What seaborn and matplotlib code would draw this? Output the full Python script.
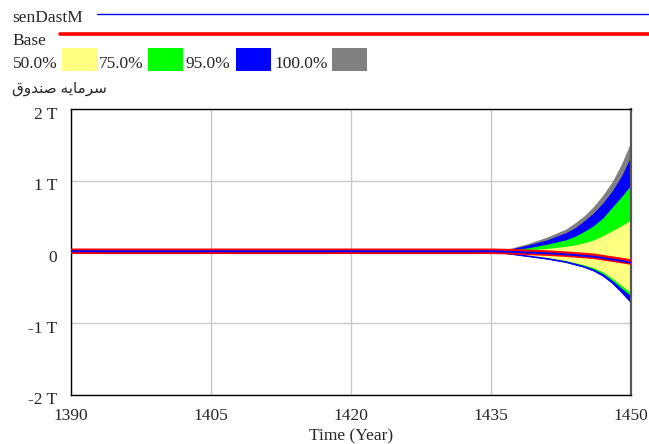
import matplotlib
matplotlib.use("Agg")
import matplotlib.pyplot as plt
from matplotlib.lines import Line2D
from matplotlib.patches import Rectangle
from matplotlib.transforms import ScaledTranslation
import numpy as np
import pandas as pd
import seaborn as sns

# Simulation output, fund capital in trillions (T)
years = [1390, 1430, 1435, 1437, 1439, 1441, 1443, 1444, 1445, 1446, 1447, 1448, 1449, 1450]

base =      [0.01, 0.01, 0.01, 0.005, -0.005, -0.015, -0.03, -0.04, -0.05, -0.06, -0.08, -0.10, -0.12, -0.14]
sen_dastm = [0.01, 0.01, 0.01, 0.003, -0.008, -0.018, -0.033, -0.043, -0.054, -0.065, -0.085, -0.105, -0.127, -0.15]

# Confidence bounds (upper / lower) for each sensitivity band
p100_hi = [0.01, 0.01, 0.02, 0.05, 0.12, 0.21, 0.32, 0.41, 0.51, 0.64, 0.80, 0.99, 1.24, 1.55]
p95_hi  = [0.01, 0.01, 0.015, 0.04, 0.10, 0.17, 0.27, 0.34, 0.44, 0.55, 0.69, 0.86, 1.07, 1.35]
p75_hi  = [0.01, 0.01, 0.01, 0.025, 0.06, 0.11, 0.17, 0.22, 0.29, 0.37, 0.48, 0.63, 0.78, 0.94]
p50_hi  = [0.01, 0.01, 0.01, 0.015, 0.03, 0.05, 0.08, 0.10, 0.13, 0.17, 0.23, 0.30, 0.37, 0.45]
p50_lo  = [0.01, 0.01, 0.005, -0.02, -0.05, -0.08, -0.12, -0.15, -0.18, -0.22, -0.28, -0.37, -0.47, -0.57]
p75_lo  = [0.01, 0.01, 0.004, -0.022, -0.055, -0.087, -0.13, -0.16, -0.195, -0.24, -0.305, -0.40, -0.51, -0.62]
p95_lo  = [0.01, 0.01, 0.003, -0.025, -0.06, -0.095, -0.14, -0.175, -0.21, -0.26, -0.33, -0.43, -0.56, -0.70]
p100_lo = [0.01, 0.01, 0.002, -0.027, -0.062, -0.098, -0.145, -0.18, -0.215, -0.265, -0.34, -0.44, -0.57, -0.72]

x_ticks = [1390, 1405, 1420, 1435, 1450]
y_ticks = [-2, -1, 0, 1, 2]
y_tick_labels = ["-2 T", "-1 T", "0", "1 T", "2 T"]
band_labels = ["50.0%", "75.0%", "95.0%", "100.0%"]
band_colors = ["#ffff80", "#00ff00", "#0000ff", "#808080"]

FS = 12.5
sns.set_style("white")
plt.rcParams["font.family"] = ["Liberation Serif", "DejaVu Sans"]
plt.rcParams["font.size"] = FS

W, H = 649, 444
fig = plt.figure(figsize=(W / 100, H / 100), dpi=100)
L, R, T, B = 71, 631, 109.5, 394.5
ax = fig.add_axes([L / W, 1 - B / H, (R - L) / W, (B - T) / H])

df = pd.DataFrame({"year": years, "base": base, "sen": sen_dastm})

bands = [(p100_lo, p100_hi), (p95_lo, p95_hi), (p75_lo, p75_hi), (p50_lo, p50_hi)]
for (lo, hi), col in zip(bands, band_colors[::-1]):
    ax.fill_between(years, lo, hi, color=col, linewidth=0, zorder=2)
# lower edge of the outer bands shows as a blue rim
ax.plot(years, p95_lo, color="#0000ff", lw=1.2, zorder=2.5)

sns.lineplot(data=df, x="year", y="base", ax=ax, color="#ff0000", lw=4.0, zorder=3)
sns.lineplot(data=df, x="year", y="sen", ax=ax, color="#0000ff", lw=1.4, zorder=4)

ax.set_xlim(1390, 1450)
ax.set_ylim(-2, 2)
ax.set_xticks(x_ticks)
ax.set_xticklabels([str(t) for t in x_ticks])
ax.set_yticks(y_ticks)
ax.set_yticklabels(y_tick_labels)
ax.tick_params(axis="both", length=0, labelsize=FS)
ax.tick_params(axis="y", pad=10)
ax.tick_params(axis="x", pad=0)

px = fig.dpi_scale_trans
for lab in ax.get_yticklabels():
    lab.set_verticalalignment("baseline")
    lab.set_transform(lab.get_transform() + ScaledTranslation(0, -9.5 / 100, px))
for lab in ax.get_xticklabels():
    lab.set_verticalalignment("baseline")
    lab.set_transform(lab.get_transform() + ScaledTranslation(0, -25.5 / 100, px))

ax.set_xlabel("Time (Year)", fontsize=FS)
ax.xaxis.set_label_coords(0.5, -(440 - B) / (B - T))
ax.xaxis.label.set_verticalalignment("baseline")
ax.set_ylabel("")

ax.grid(True, color="#c8c8c8", lw=1.0, zorder=1)
for s in ["left", "bottom", "top"]:
    ax.spines[s].set_color("#000000")
    ax.spines[s].set_linewidth(1.0)
ax.spines["right"].set_color("#555555")
ax.spines["right"].set_linewidth(1.6)
ax.set_axisbelow(True)


def fx(x):
    return x / W


def fy(y):
    return 1 - y / H


# Legend rows drawn in figure space
fig.text(fx(12.5), fy(21.7), "senDastM", ha="left", va="baseline", fontsize=FS)
fig.add_artist(Line2D([fx(97), fx(649)], [fy(14.5), fy(14.5)], color="#0000ff", lw=1.0))
fig.text(fx(12.5), fy(45), "Base", ha="left", va="baseline", fontsize=FS)
fig.add_artist(Line2D([fx(60), fx(649)], [fy(34.3), fy(34.3)], color="#ff0000", lw=2.6))

label_x = [12.5, 99.3, 186, 274]
box_x = [61.7, 148.3, 236, 331.7]
for lx, bx, lab, col in zip(label_x, box_x, band_labels, band_colors):
    fig.text(fx(lx), fy(68), lab, ha="left", va="baseline", fontsize=FS)
    fig.add_artist(Rectangle((fx(bx), fy(70.7)), 35 / W, 22.4 / H, color=col,
                             transform=fig.transFigure, lw=0))

# Variable name: سرمایه صندوق (shaped glyph forms, visual order)
fig.text(fx(12.5), fy(93), "\uFED5\uFEED\uFEAA\uFEE8\uFEBB \uFEEA\uFBFE\uFE8E\uFEE3\uFEAE\uFEB3",
         ha="left", va="baseline", fontsize=11, family=["Liberation Serif", "DejaVu Sans"])

fig.savefig("out.png", dpi=100)
